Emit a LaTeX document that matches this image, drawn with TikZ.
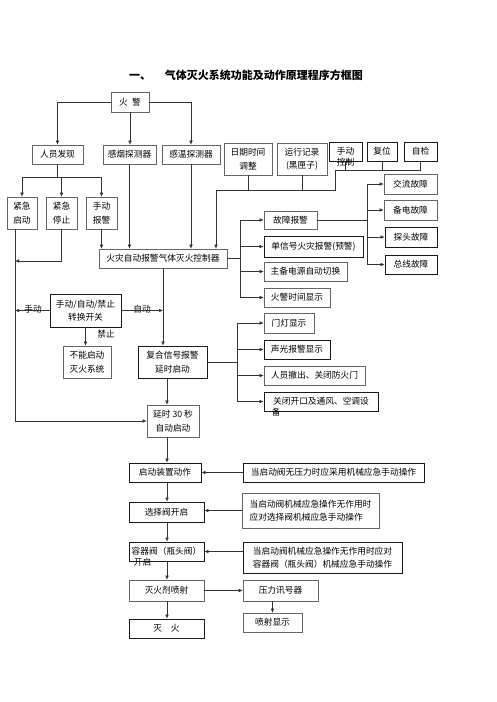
\documentclass[tikz,border=0pt]{standalone}
\usepackage{fontspec}
\setmainfont{Noto Sans CJK SC}
\usepackage{tikz}
\usetikzlibrary{positioning,arrows.meta}
\tikzset{
  box/.style ={rectangle, draw=black!60, line width=0.6pt, inner sep=1pt, align=center},
  boxd/.style={box, draw=black!90, line width=0.8pt},
  note/.style={box, align=left},
  arr/.style ={-{Latex[length=4pt,width=3.6pt]}, line width=0.55pt, draw=black!80},
  ln/.style  ={line width=0.55pt, draw=black!80},
}

\begin{document}
\begin{tikzpicture}[x=1pt, y=-1pt, font=\fontsize{8.7}{13.5}\selectfont,
  tag/.style={inner sep=0pt, anchor=north west}]
  \useasboundingbox (0,0) rectangle (496,702);
  \node[font=\fontsize{11}{13}\selectfont\bfseries] (title) at (246,75)
       {一、\hspace{14pt}气体灭火系统功能及动作原理程序方框图};

  \node[box, minimum width=38pt, minimum height=20pt] (fire)  at (130,102) {火\enspace 警};
  \node[box, minimum width=51pt, minimum height=19pt] (find)  at (57.5,154.5) {人员发现};
  \node[box, minimum width=53pt, minimum height=19pt] (smoke) at (129.5,154.5) {感烟探测器};
  \node[box, minimum width=58pt, minimum height=19pt] (heat)  at (191,154.5) {感温探测器};
  \node[box, minimum width=48pt, minimum height=32pt] (date)  at (248,159) {日期时间\\调整};
  \node[box, minimum width=50pt, minimum height=32pt] (rec)   at (302,159) {运行记录\\(黑匣子)};
  \node[boxd, minimum width=33pt, minimum height=19pt] (man)  at (345.5,151.5) {手动};
  \node[tag, anchor=north] (manb) at ([yshift=3pt]man.south) {控制};
  \node[boxd, minimum width=30pt, minimum height=19pt] (reset) at (382,151.5) {复位};
  \node[boxd, minimum width=33pt, minimum height=19pt] (test)  at (420.5,151.5) {自检};

  \node[box, minimum width=30pt, minimum height=32pt] (estart) at (22,213) {紧急\\启动};
  \node[box, minimum width=31pt, minimum height=32pt] (estop)  at (61.5,213) {紧急\\停止};
  \node[box, minimum width=31pt, minimum height=32pt] (malarm) at (101.5,213) {手动\\报警};
  \node[box, minimum width=128pt, minimum height=19pt] (ctrl) at (163,258.5) {火灾自动报警气体灭火控制器};

  \node[box, minimum width=53pt, minimum height=18pt] (flt)   at (290.5,220) {故障报警};
  \node[boxd, minimum width=99pt, minimum height=21pt] (sig)  at (313.5,246.5) {单信号火灾报警(预警)};
  \node[box, minimum width=83pt, minimum height=19pt] (pwr)   at (305.5,271.5) {主备电源自动切换};
  \node[box, minimum width=66pt, minimum height=19pt] (tdisp) at (297,297.5) {火警时间显示};
  \node[box, minimum width=53pt, minimum height=20pt] (ac)    at (410.5,184) {交流故障};
  \node[box, minimum width=53pt, minimum height=20pt] (bat)   at (410.5,210) {备电故障};
  \node[boxd, minimum width=52pt, minimum height=20pt] (det)  at (411,237) {探头故障};
  \node[boxd, minimum width=52pt, minimum height=19pt] (bus)  at (411,264.5) {总线故障};

  \node[boxd, minimum width=71pt, minimum height=33pt] (sw)   at (85.5,310.5) {手动/自动/禁止\\转换开关};
  \node[box, minimum width=48pt, minimum height=32pt] (nost)  at (87,362) {不能启动\\灭火系统};
  \node[boxd, minimum width=69pt, minimum height=32pt] (comp) at (172.5,362) {复合信号报警\\延时启动};
  \node[box, minimum width=52pt, minimum height=32pt] (delay) at (173,421) {延时 30 秒\\自动启动};
  \node (lman)  at (33,309)  {手动};
  \node (lauto) at (142,309) {自动};
  \node (lban)  at (106,334) {禁止};

  \node[box, minimum width=50pt, minimum height=20pt] (door)  at (289,323) {门灯显示};
  \node[boxd, minimum width=66pt, minimum height=19pt] (light) at (297,349.5) {声光报警显示};
  \node[box, minimum width=101pt, minimum height=19pt] (evac) at (314.5,375.5) {人员撤出、关闭防火门};
  \node[boxd, minimum width=114pt, minimum height=19pt] (vent) at (321,401.5) {关闭开口及通风、空调设};
  \node[tag] (ventb) at ([xshift=8pt, yshift=3pt]vent.south west) {备};

  \node[boxd, minimum width=72pt, minimum height=19pt] (act) at (165,472.5) {启动装置动作};
  \node[boxd, minimum width=75pt, minimum height=20pt] (sel) at (166.5,512) {选择阀开启};
  \node[boxd, minimum width=75pt, minimum height=19pt] (cyl) at (166.5,551.5) {容器阀（瓶头阀）};
  \node[tag] (cylb) at ([xshift=5pt, yshift=3pt]cyl.south west) {开启};
  \node[box, minimum width=75pt, minimum height=21pt] (jet) at (166.5,590.5) {灭火剂喷射};
  \node[boxd, minimum width=75pt, minimum height=19pt] (ext) at (166.5,628.5) {灭\quad 火};
  \node[boxd, minimum width=181pt, minimum height=19pt] (note1) at (333.5,472.5) {当启动阀无压力时应采用机械应急手动操作};
  \node[note, minimum width=137pt, minimum height=35pt] (note2) at (310.5,510.5)
       {当启动阀机械应急操作无作用时\\应对选择阀机械应急手动操作};
  \node[note, boxd, minimum width=159pt, minimum height=31pt] (note3) at (322.5,557.5)
       {当启动阀机械应急操作无作用时应对\\容器阀（瓶头阀）机械应急手动操作};
  \node[box, minimum width=75pt, minimum height=21pt] (psw) at (280.5,590.5) {压力讯号器};
  \node[box, minimum width=59pt, minimum height=19pt] (jdisp) at (272.5,622.5) {喷射显示};

  \coordinate (fj) at (0,177);
  \coordinate (lr) at (15,0);
  \coordinate (sj) at (15,261);
  \coordinate (hk) at (335,170);
  \coordinate (hb) at (216,190);
  \coordinate (cj) at (240,0);
  \coordinate (gj) at (367,0);
  \coordinate (pj) at (237,0);
  \coordinate (col) at (167,0);

  \draw[arr] (fire.west) -| (find.north);
  \draw[arr] (fire.south) -- (fire.south |- smoke.north);
  \draw[arr] (fire.east) -| (heat.north);

  \draw[ln] (find.south) -- (find.south |- fj);
  \draw[ln] (estart.north |- fj) -- (malarm.north |- fj);
  \foreach \n in {estart,estop,malarm}{\draw[arr] (\n.north |- fj) -- (\n.north);}
  \foreach \n in {malarm,smoke,heat}{\draw[arr] (\n.south) -- (\n.south |- ctrl.north);}

  \foreach \n in {man,reset,test}{\draw[ln] (\n.south) -- (\n.south |- hk);}
  \draw[ln] (hk) -- (test.south |- hk);
  \draw[ln] (hk) -- (hk |- hb) -- (hb);
  \foreach \n in {date,rec}{\draw[ln] (\n.south) -- (\n.south |- hb);}
  \draw[arr] (hb) -- (hb |- ctrl.north);

  \draw[ln] (ctrl.east) -- (cj |- ctrl.east);
  \draw[ln] (cj |- flt.west) -- (cj |- tdisp.west);
  \foreach \n in {flt,sig,pwr,tdisp}{\draw[arr] (cj |- \n.west) -- (\n.west);}
  \draw[ln] (flt.east) -- (gj |- flt.east);
  \draw[ln] (gj |- ac.west) -- (gj |- bus.west);
  \foreach \n in {ac,bat,det,bus}{\draw[arr] (gj |- \n.west) -- (\n.west);}

  \draw[arr] (lr |- estart.south) |- (delay.west);
  \draw[arr] (estop.south) |- (sj);
  \draw[arr] (sw.west) -- (lr |- sw.west);
  \draw[arr] (sw.east) -- (ctrl.south |- sw.east);
  \draw[arr] (sw.south) -- (sw.south |- nost.north);
  \draw[arr] (ctrl.south) -- (ctrl.south |- comp.north);

  \draw[ln] (comp.east) -- (pj |- comp.east);
  \draw[ln] (pj |- door.west) -- (pj |- vent.west);
  \foreach \n in {door,light,evac,vent}{\draw[arr] (pj |- \n.west) -- (\n.west);}

  \draw[arr] (col |- comp.south) -- (col |- delay.north);
  \draw[arr] (col |- delay.south) -- (col |- act.north);
  \draw[arr] (col |- act.south) -- (col |- sel.north);
  \draw[arr] (col |- sel.south) -- (col |- cyl.north);
  \draw[arr] (col |- cyl.south) -- (col |- jet.north);
  \draw[arr] (col |- jet.south) -- (col |- ext.north);

  \draw[arr] (note1.west) -- (act.east);
  \draw[arr] (note2.west) -- (sel.east |- note2.west);
  \draw[arr] (note3.west |- cyl.east) -- (cyl.east);
  \draw[arr] (jet.east) -- (psw.west);
  \draw[arr] (jdisp.north |- psw.south) -- (jdisp.north);
\end{tikzpicture}
\end{document}
